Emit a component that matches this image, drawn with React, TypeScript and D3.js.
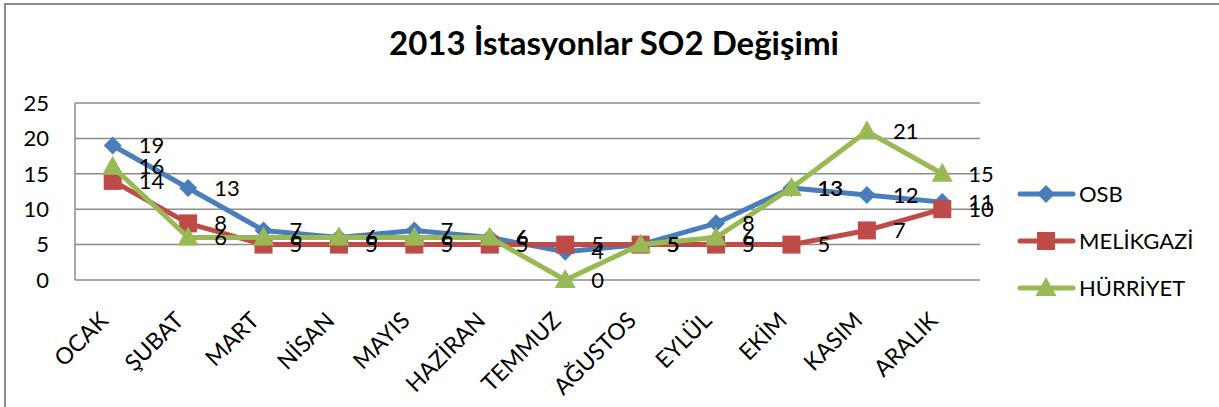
import React from 'react';
import * as d3 from 'd3';

const months = ['OCAK', 'ŞUBAT', 'MART', 'NİSAN', 'MAYIS', 'HAZİRAN', 'TEMMUZ', 'AĞUSTOS', 'EYLÜL', 'EKİM', 'KASIM', 'ARALIK'];
const osb = [19, 13, 7, 6, 7, 6, 4, 5, 8, 13, 12, 11];
const melikgazi = [14, 8, 5, 5, 5, 5, 5, 5, 5, 5, 7, 10];
const hurriyet = [16, 6, 6, 6, 6, 6, 0, 5, 6, 13, 21, 15];
const yTicks = [0, 5, 10, 15, 20, 25];

const series = [
  { name: 'OSB', values: osb, color: '#4A7EBB', marker: 'diamond' },
  { name: 'MELİKGAZİ', values: melikgazi, color: '#BE4B48', marker: 'square' },
  { name: 'HÜRRİYET', values: hurriyet, color: '#98B954', marker: 'triangle' },
];

const W = 1219;
const H = 407;
const plot = { left: 75, right: 980, top: 103, bottom: 280 };
const FONT = 'Lato, "Open Sans", sans-serif';

// marker shape, centred on 0,0
function markerPath(kind: string) {
  if (kind === 'diamond') return 'M0,-9L9,0L0,9L-9,0Z';
  if (kind === 'square') return 'M-9,-9H9V9H-9Z';
  return 'M0,-11L10.5,8L-10.5,8Z';
}

const App: React.FC = () => {
  const x = d3.scaleBand<string>().domain(months).range([plot.left, plot.right]);
  const cx = (m: string) => (x(m) ?? 0) + x.bandwidth() / 2;
  const y = d3.scaleLinear().domain([0, 25]).range([plot.bottom, plot.top]);

  const line = d3.line<number>()
    .x((_, i) => cx(months[i]))
    .y(d => y(d));

  return (
    <svg width={W} height={H} style={{ position: 'absolute', left: 0, top: 0, background: '#fff' }}
      fontFamily={FONT}>
      <rect x={0} y={0} width={W} height={H} fill="#fff" />
      {/* chart border, runs off the right and bottom */}
      <rect x={5} y={4} width={W + 20} height={H + 20} fill="none" stroke="#8c8c8c" strokeWidth={2} />

      <text x={614} y={55} textAnchor="middle" fontSize={33} fontWeight="bold" fill="#000">
        2013 İstasyonlar SO2 Değişimi
      </text>

      {/* gridlines */}
      {yTicks.map(t => (
        <line key={t} x1={plot.left} x2={plot.right} y1={y(t)} y2={y(t)} stroke="#8c8c8c" strokeWidth={1.5} />
      ))}
      <line x1={plot.left} x2={plot.left} y1={plot.top} y2={plot.bottom} stroke="#8c8c8c" strokeWidth={1.5} />

      {yTicks.map(t => (
        <text key={t} x={49} y={y(t)} dy="0.35em" textAnchor="end" fontSize={22} fill="#000">{t}</text>
      ))}

      {months.map(m => (
        <text key={m} transform={`translate(${cx(m) - 3},${plot.bottom + 42}) rotate(-45)`}
          textAnchor="end" fontSize={23} fill="#000">{m}</text>
      ))}

      {series.map(s => (
        <g key={s.name}>
          <path d={line(s.values) ?? ''} fill="none" stroke={s.color} strokeWidth={5} strokeLinejoin="round" />
          {s.values.map((v, i) => (
            <path key={i} d={markerPath(s.marker)} transform={`translate(${cx(months[i])},${y(v)})`} fill={s.color} />
          ))}
        </g>
      ))}

      {series.map(s => (
        <g key={s.name + '-labels'}>
          {s.values.map((v, i) => (
            <text key={i} x={cx(months[i]) + 26} y={y(v)} dy="0.35em" fontSize={22} fill="#000">{v}</text>
          ))}
        </g>
      ))}

      {/* legend */}
      {series.map((s, i) => {
        const ly = 194 + i * 47;
        return (
          <g key={s.name + '-legend'}>
            <line x1={1020} x2={1073} y1={ly} y2={ly} stroke={s.color} strokeWidth={5} strokeLinecap="round" />
            <path d={markerPath(s.marker)} transform={`translate(1046,${ly})`} fill={s.color} />
            <text x={1079} y={ly} dy="0.35em" fontSize={22} fill="#000">{s.name}</text>
          </g>
        );
      })}
    </svg>
  );
};

export default App;
